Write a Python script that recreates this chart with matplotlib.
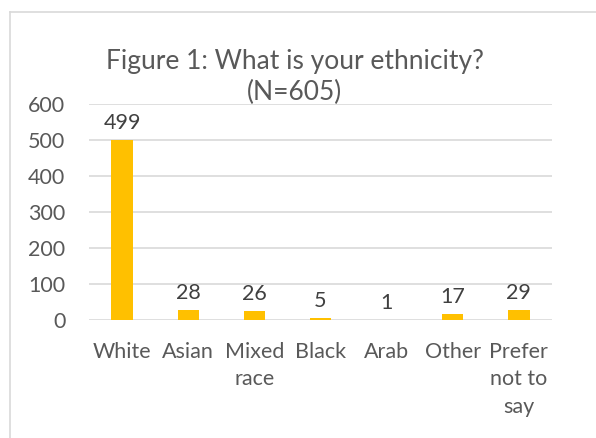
import matplotlib
matplotlib.use("Agg")
import matplotlib.pyplot as plt
from matplotlib.lines import Line2D

# Survey data: ethnicity of respondents
categories = ["White", "Asian", "Mixed\nrace", "Black", "Arab", "Other", "Prefer\nnot to\nsay"]
counts = [499, 28, 26, 5, 1, 17, 29]
y_ticks = [0, 100, 200, 300, 400, 500, 600]

plt.rcParams['font.family'] = ['Lato', 'DejaVu Sans']
text_col = '#595959'
grid_col = '#D9D9D9'

fig = plt.figure(figsize=(5.96, 4.38), dpi=100)
ax = fig.add_axes([89 / 596, 118 / 438, 463 / 596, 216 / 438])

x = list(range(len(categories)))
ax.bar(x, counts, width=0.32, color='#FFC000', zorder=3)

# value labels above bars
for xi, v in zip(x, counts):
    ax.annotate(str(v), (xi, v), xytext=(0, 5), textcoords='offset points',
                ha='center', va='bottom', fontsize=15.5, color='#404040')

ax.set_xlim(-0.5, len(categories) - 0.5)
ax.set_ylim(0, 600)
ax.set_yticks(y_ticks)
ax.set_xticks(x)
ax.set_xticklabels(categories, linespacing=1.45)
ax.tick_params(axis='both', length=0, labelsize=15.5, labelcolor=text_col)
ax.tick_params(axis='y', pad=17)
ax.tick_params(axis='x', pad=16)

ax.yaxis.grid(True, color=grid_col, linewidth=1.2, zorder=0)
for s in ax.spines.values():
    s.set_visible(False)

fig.text(295 / 596, 1 - 61 / 438, "Figure 1: What is your ethnicity?", ha='center',
         va='center', fontsize=19, color=text_col)
fig.text(295 / 596, 1 - 92 / 438, "(N=605)", ha='center', va='center',
         fontsize=19, color=text_col)

# chart frame (left and top edges visible)
fig.add_artist(Line2D([10 / 596, 10 / 596], [0, 1 - 12 / 438], transform=fig.transFigure,
                      color=grid_col, linewidth=1.2))
fig.add_artist(Line2D([10 / 596, 1], [1 - 12 / 438, 1 - 12 / 438], transform=fig.transFigure,
                      color=grid_col, linewidth=1.2))

fig.savefig('out.png', dpi=100)
